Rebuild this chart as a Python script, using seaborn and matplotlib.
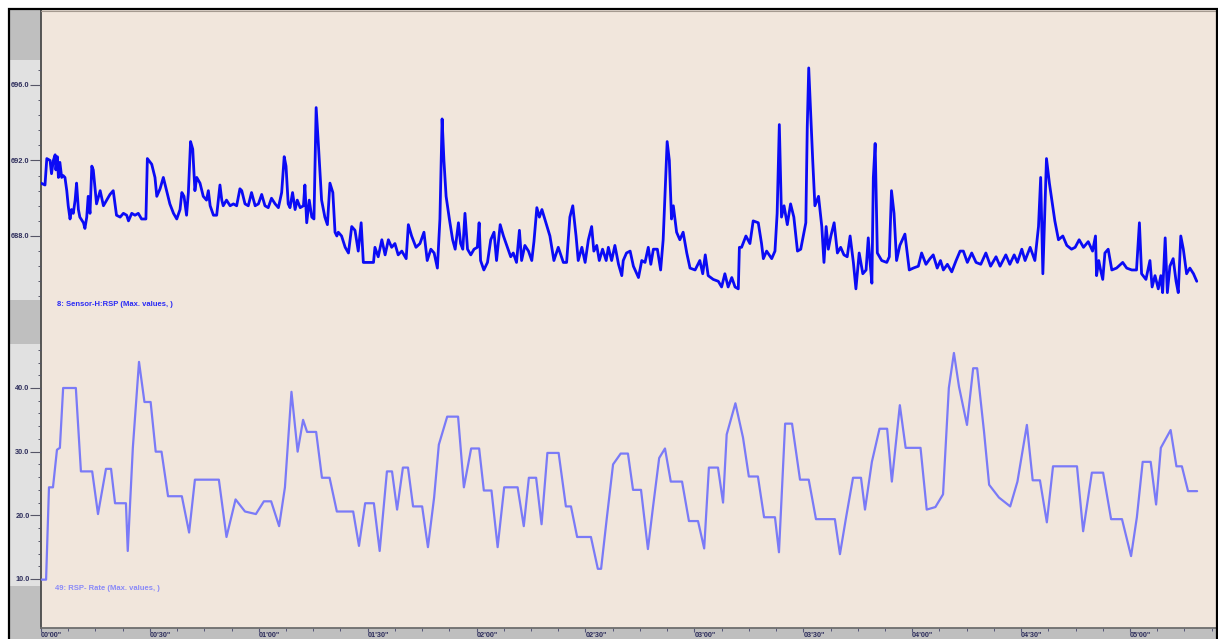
import numpy as np
import pandas as pd
import matplotlib
matplotlib.use("Agg")
import matplotlib.pyplot as plt
from matplotlib.patches import Rectangle
from matplotlib.lines import Line2D
from matplotlib.ticker import MultipleLocator, FormatStrFormatter
import seaborn as sns

# Sensor-H:RSP (max values) - time in seconds, value in sensor units
rsp_time = [
    0.0, 1.1, 1.6, 2.5, 2.9, 3.4, 3.9, 4.1, 4.5, 4.8, 5.2, 5.7, 6.1, 6.6, 7.1, 7.5, 8.0, 8.4, 8.9, 9.4,
    9.8, 10.3, 10.7, 11.7, 12.1, 12.6, 13.0, 13.5, 14.0, 14.4, 15.3, 16.3, 17.2, 18.1, 19.0, 19.9, 20.8, 21.8, 22.7, 23.6,
    24.1, 25.0, 25.9, 26.8, 27.7, 28.9, 29.3, 30.5, 31.4, 31.9, 32.8, 33.7, 34.6, 35.5, 36.5, 37.4, 38.3, 38.8, 39.4, 40.1,
    40.6, 41.2, 41.8, 42.4, 42.9, 43.8, 44.7, 45.6, 46.1, 46.6, 47.5, 48.4, 49.3, 49.8, 50.2, 51.1, 52.1, 53.0, 53.9, 54.8,
    55.3, 56.2, 57.1, 58.0, 59.0, 59.9, 60.8, 61.7, 62.6, 63.5, 64.5, 65.4, 66.3, 67.0, 67.5, 68.1, 68.6, 69.3, 70.0, 70.6,
    71.4, 72.3, 72.7, 73.2, 73.9, 74.6, 75.2, 75.8, 76.4, 77.3, 78.2, 78.9, 79.6, 80.4, 81.0,
    81.5, 81.9, 82.8, 83.8, 84.7, 85.6, 86.5, 87.4, 88.2, 88.8, 90.2, 91.6, 92.0, 92.9, 93.9, 94.8, 95.7, 96.6, 97.5, 98.4,
    99.4, 100.6, 101.2, 102.1, 103.3, 104.4, 105.5, 106.4, 107.4, 108.3, 109.2, 109.9, 110.5, 111.0, 111.6, 112.5, 113.4, 114.1, 115.0, 115.6,
    116.2, 116.8, 117.5, 118.4, 119.3, 120.2, 120.7, 121.1, 122.0, 123.0, 123.9, 124.8, 125.5, 126.5, 127.4, 128.3, 129.4, 130.1, 131.0, 131.8,
    132.4, 133.3, 134.3, 135.2, 135.8, 136.6, 137.3, 138.0, 139.1, 140.2, 141.3, 142.5, 143.9, 144.8, 145.7, 146.5, 147.4, 148.0, 149.0, 149.9,
    150.8, 151.7, 152.3, 153.1, 153.8, 154.7, 155.7, 156.3, 157.2, 158.1, 159.1, 160.0,
    160.4, 161.3, 162.3, 163.2, 164.6, 165.5, 166.4, 167.3, 168.0, 168.7, 169.8, 170.7, 171.4, 172.5, 173.1, 173.7, 174.2, 175.1, 176.0, 176.9,
    177.9, 178.8, 180.2, 181.5, 182.3, 183.0, 183.8, 185.2, 186.6, 187.5, 188.4, 189.3, 190.3, 191.2, 192.1, 192.4, 193.0, 194.2, 195.3, 196.2,
    197.6, 198.5, 199.0, 199.9, 201.3, 202.2, 202.8, 203.4, 204.0, 204.7, 205.6, 206.5, 207.4, 208.4, 209.3, 210.2, 210.7, 211.1, 211.5, 212.0,
    212.6, 213.2, 214.2, 215.1, 215.7, 216.3, 216.9, 217.6, 218.5, 219.4, 220.3, 221.2, 222.1, 222.9, 223.8, 224.5, 225.4, 226.4, 227.3, 227.9,
    228.4, 228.9, 229.3, 229.8, 230.4, 231.6, 233.0, 233.7, 234.3, 235.0, 235.7, 236.6, 238.0, 239.2,
    240.3, 241.7, 242.6, 243.8, 244.9, 245.8, 246.9, 247.8, 248.6, 249.7, 250.9, 252.1, 253.2, 254.1, 255.2, 256.4, 257.6, 258.9, 260.3, 261.6,
    263.1, 264.2, 265.8, 266.9, 268.1, 269.0, 270.2, 271.1, 272.5, 273.8, 274.8, 275.4, 276.0, 276.4, 277.0, 277.8, 278.7, 279.3, 280.3, 281.5,
    282.6, 283.9, 284.9, 286.0, 287.2, 288.5, 289.7, 290.5, 290.8, 291.4, 291.9, 292.5, 293.1, 294.0, 295.0, 296.3, 298.0, 299.1, 300.5, 301.8,
    302.6, 303.2, 304.4, 305.5, 306.1, 306.9, 307.8, 308.5, 309.0, 309.7, 310.3, 311.0, 311.9, 312.7, 313.3, 314.0, 314.7, 315.6, 316.5, 317.5,
    318.4,
]
rsp_value = [
    690.8, 690.7, 692.1, 692.0, 691.3, 692.0, 692.3, 691.5, 692.2, 691.1, 691.9, 691.1, 691.2, 691.1, 690.4, 689.6, 688.9, 689.4, 689.2, 689.9,
    690.8, 689.4, 689.0, 688.7, 688.4, 689.0, 690.1, 689.2, 691.7, 691.5, 689.7, 690.4, 689.6, 689.9, 690.2, 690.4, 689.1, 689.0, 689.2, 689.1,
    688.8, 689.2, 689.1, 689.2, 688.9, 688.9, 692.1, 691.8, 691.1, 690.1, 690.5, 691.1, 690.4, 689.7, 689.2, 688.9, 689.4, 690.3, 690.1, 689.1,
    690.3, 693.0, 692.6, 690.4, 691.1, 690.8, 690.1, 689.9, 690.4, 689.6, 689.1, 689.1, 690.7, 689.9, 689.6, 689.9, 689.6, 689.7, 689.6, 690.5,
    690.4, 689.7, 689.6, 690.3, 689.6, 689.7, 690.2, 689.6, 689.5, 690.0, 689.7, 689.5, 690.3, 692.2, 691.7, 689.7, 689.5, 690.3, 689.4, 689.9,
    689.5, 689.6, 690.7, 688.7, 689.9, 689.0, 688.9, 694.8, 692.9, 689.9, 689.0, 688.6, 690.8, 690.3, 688.2,
    688.0, 688.2, 688.0, 687.4, 687.1, 688.5, 688.3, 687.2, 688.7, 686.6, 686.6, 686.6, 687.4, 686.9, 687.8, 687.0, 687.8, 687.4, 687.6, 687.0,
    687.2, 686.8, 688.6, 688.0, 687.4, 687.6, 688.2, 686.7, 687.3, 687.1, 686.3, 688.9, 694.2, 692.0, 690.1, 688.9, 687.8, 687.3, 688.7, 687.6,
    687.3, 689.2, 687.3, 687.0, 687.3, 687.4, 688.7, 686.7, 686.2, 686.6, 687.8, 688.2, 686.7, 688.6, 688.0, 687.5, 686.9, 687.1, 686.6, 688.3,
    686.7, 687.5, 687.2, 686.7, 687.7, 689.5, 689.0, 689.4, 688.7, 688.0, 686.7, 687.4, 686.6, 686.6, 689.0, 689.6, 688.0, 686.7, 687.4, 686.6,
    687.8, 688.5, 687.2, 687.5, 686.7, 687.3, 686.7, 687.4, 686.7, 687.5, 686.5, 685.9,
    686.7, 687.1, 687.2, 686.4, 685.8, 686.7, 686.6, 687.4, 686.5, 687.3, 687.3, 686.2, 687.8, 693.0, 692.0, 688.9, 689.6, 688.2, 687.8, 688.2,
    687.1, 686.3, 686.2, 686.7, 686.0, 687.0, 685.9, 685.7, 685.6, 685.3, 686.0, 685.3, 685.8, 685.3, 685.2, 687.4, 687.4, 688.0, 687.6, 688.8,
    688.7, 687.6, 686.8, 687.2, 686.8, 687.2, 689.2, 693.9, 689.0, 689.6, 688.6, 689.7, 689.0, 687.2, 687.3, 688.2, 688.7, 693.8, 696.9, 694.7,
    692.0, 689.6, 690.1, 688.5, 686.6, 688.5, 687.3, 688.0, 688.7, 687.1, 687.4, 687.0, 686.9, 688.0, 686.6, 685.2, 687.1, 686.0, 686.2, 687.9,
    686.6, 685.5, 691.1, 692.9, 687.1, 686.7, 686.6, 686.9, 690.4, 689.2, 686.7, 687.5, 688.1, 686.2,
    686.3, 686.4, 687.1, 686.5, 686.8, 687.0, 686.3, 686.7, 686.2, 686.5, 686.1, 686.7, 687.2, 687.2, 686.6, 687.1, 686.6, 686.5, 687.1, 686.4,
    686.9, 686.4, 687.0, 686.5, 687.0, 686.6, 687.3, 686.7, 687.4, 686.7, 688.5, 691.1, 686.0, 688.5, 692.1, 690.8, 689.6, 688.8, 687.8, 688.0,
    687.5, 687.3, 687.4, 687.8, 687.4, 687.7, 687.2, 688.0, 685.9, 686.7, 686.2, 685.7, 687.1, 687.3, 686.2, 686.3, 686.6, 686.3, 686.2, 686.2,
    688.7, 686.0, 685.7, 686.7, 685.3, 685.9, 685.2, 685.9, 685.0, 687.9, 685.0, 686.4, 686.8, 685.6, 685.0, 688.0, 687.3, 686.0, 686.3, 686.0,
    685.6,
]

# RSP- Rate (max values)
rate_time = [
    0.0, 1.4, 2.2, 3.3, 4.4, 5.2, 6.1, 9.6, 11.0, 14.1, 15.7, 17.9, 19.3, 20.4, 23.4, 23.9, 25.3, 27.0, 28.5, 30.2, 31.6,
    33.2, 35.0, 38.8, 40.8, 42.4, 49.0, 51.1, 53.6, 56.2, 59.2, 61.4, 63.4, 65.6, 67.2, 69.0, 70.7, 72.2, 73.3, 75.8, 77.4,
    79.5, 81.5, 86.0, 87.6, 89.3, 91.7, 93.3, 95.3, 96.7, 98.1, 99.7, 101.1, 102.5, 105.0, 106.6, 108.3, 109.6, 111.9, 114.9, 116.5,
    118.5, 120.7, 122.0, 124.1, 125.8, 127.6, 131.3, 133.0, 134.4, 136.4, 137.9, 139.5, 142.6, 144.6, 146.0, 147.7, 151.5, 153.4, 154.3, 155.9,
    157.6, 159.7, 161.7, 163.1, 165.3, 167.2, 168.6, 170.3, 171.9, 173.5, 176.6, 178.5, 181.0, 182.7, 184.0, 186.5, 187.9, 188.9, 191.3, 193.4,
    195.0, 197.5, 199.2, 202.2, 203.3, 205.0, 206.9, 209.1, 211.5, 213.5, 218.7, 220.1, 221.8, 223.7, 225.9, 227.0, 228.9, 231.0, 233.1, 234.4,
    236.6, 238.2, 242.3, 244.0, 246.4, 248.5, 250.1, 251.5, 252.9, 255.1, 256.8, 257.9, 259.8, 261.2, 263.9, 267.0, 269.0, 271.6, 273.2, 275.2,
    277.1, 278.8, 285.4, 287.1, 289.5, 292.6, 294.8, 297.8, 300.3, 301.9, 303.5, 305.7, 307.2, 308.5, 311.2, 312.8, 314.3, 316.0, 318.5,
]
rate_value = [
    9.9, 9.9, 24.4, 24.4, 30.3, 30.6, 40.0, 40.0, 26.9, 26.9, 20.2, 27.3, 27.3, 21.9, 21.9, 14.4, 30.6, 44.1, 37.8, 37.8, 30.0,
    30.0, 23.0, 23.0, 17.3, 25.6, 25.6, 16.6, 22.5, 20.6, 20.2, 22.2, 22.2, 18.3, 24.4, 39.4, 30.0, 35.0, 33.1, 33.1, 25.9,
    25.9, 20.6, 20.6, 15.2, 21.9, 21.9, 14.4, 26.9, 26.9, 20.9, 27.5, 27.5, 21.4, 21.4, 15.0, 22.8, 31.1, 35.5, 35.5, 24.4,
    30.5, 30.5, 23.9, 23.9, 15.0, 24.4, 24.4, 18.3, 25.9, 25.9, 18.6, 29.8, 29.8, 21.4, 21.4, 16.6, 16.6, 11.6, 11.6, 19.7,
    28.0, 29.7, 29.7, 24.0, 24.0, 14.7, 21.3, 29.0, 30.5, 25.3, 25.3, 19.1, 19.1, 14.8, 27.5, 27.5, 22.0, 32.7, 37.6, 32.2,
    26.1, 26.1, 19.7, 19.7, 14.2, 34.4, 34.4, 25.6, 25.6, 19.4, 19.4, 13.9, 19.7, 25.9, 25.9, 20.9, 28.4, 33.6, 33.6, 25.3,
    37.3, 30.6, 30.6, 20.9, 21.3, 23.3, 40.0, 45.5, 40.2, 34.2, 43.1, 43.1, 33.1, 24.8, 22.8, 21.4, 25.3, 34.2, 25.5, 25.5,
    18.9, 27.7, 27.7, 17.5, 26.7, 26.7, 19.4, 19.4, 13.6, 19.7, 28.4, 28.4, 21.7, 30.6, 33.4, 27.7, 27.7, 23.8, 23.8,
]

time_ticks = [0, 30, 60, 90, 120, 150, 180, 210, 240, 270, 300]
time_labels = ["00'00\"", "00'30\"", "01'00\"", "01'30\"", "02'00\"", "02'30\"",
               "03'00\"", "03'30\"", "04'00\"", "04'30\"", "05'00\""]
rsp_label = "8: Sensor-H:RSP (Max. values, )"
rate_label = "49: RSP- Rate (Max. values, )"

assert len(rsp_time) == len(rsp_value)
assert len(rate_time) == len(rate_value)

rsp_df = pd.DataFrame({"time": rsp_time, "value": rsp_value})
rate_df = pd.DataFrame({"time": rate_time, "value": rate_value})

# style
sns.set_style("white")
plt.rcParams["font.family"] = ["Liberation Sans", "DejaVu Sans"]
plt.rcParams["font.weight"] = "bold"

BEIGE = "#f1e6dc"
DARK_GRAY = "#bfbfbf"
LIGHT_GRAY = "#e1e1e1"
NAVY = "#2e2e5c"
RSP_COLOR = "#0b0bf5"
RATE_COLOR = "#7a7af7"
T_MAX = 323.7

W, H = 1218, 639


def box(x0, y0, x1, y1):
    # pixel box (top-left origin) -> figure fraction
    return [x0 / W, 1 - y1 / H, (x1 - x0) / W, (y1 - y0) / H]


fig = plt.figure(figsize=(W / 100, H / 100), dpi=100)
fig.patch.set_facecolor("white")


def band(x0, y0, x1, y1, color):
    b = box(x0, y0, x1, y1)
    fig.add_artist(Rectangle((b[0], b[1]), b[2], b[3], transform=fig.transFigure,
                             facecolor=color, edgecolor="none", zorder=0))


# left gutter and bottom strip
band(10, 10, 41, 60, DARK_GRAY)
band(10, 60, 41, 300, LIGHT_GRAY)
band(10, 300, 41, 344, DARK_GRAY)
band(10, 344, 41, 586, LIGHT_GRAY)
band(10, 586, 41, 628, DARK_GRAY)
band(10, 628, 1216, 640, DARK_GRAY)

# background axes carries the time axis
bg = fig.add_axes(box(41, 10, 1216, 628))
bg.set_facecolor(BEIGE)
bg.set_xlim(0, T_MAX)
bg.set_ylim(0, 1)
bg.set_yticks([])
for side in ["top", "right"]:
    bg.spines[side].set_visible(False)
bg.spines["left"].set_color("#4a4a4a")
bg.spines["left"].set_linewidth(1.3)
bg.spines["bottom"].set_color("#6e6e6e")
bg.spines["bottom"].set_linewidth(1.3)
bg.set_xticks(time_ticks)
bg.set_xticklabels(time_labels, ha="left", fontsize=5.3, color=NAVY)
bg.xaxis.set_minor_locator(MultipleLocator(7.5))
bg.tick_params(axis="x", which="major", bottom=True, length=3.0, width=0.8, color="#555577", pad=0.2)
bg.tick_params(axis="x", which="minor", bottom=True, length=1.8, width=0.7, color="#555577")

# top panel: RSP
ax1 = fig.add_axes(box(41, 60, 1216, 300))
ax1.patch.set_alpha(0)
sns.lineplot(data=rsp_df, x="time", y="value", ax=ax1, color=RSP_COLOR, linewidth=2.0, estimator=None)
ax1.set_xlim(0, T_MAX)
ax1.set_ylim(684.61, 697.32)
ax1.yaxis.set_major_locator(MultipleLocator(4))
ax1.yaxis.set_minor_locator(MultipleLocator(0.8))
ax1.yaxis.set_major_formatter(FormatStrFormatter("%.1f"))

# bottom panel: RSP rate
ax2 = fig.add_axes(box(41, 344, 1216, 586))
ax2.patch.set_alpha(0)
sns.lineplot(data=rate_df, x="time", y="value", ax=ax2, color=RATE_COLOR, linewidth=1.6, estimator=None)
ax2.set_xlim(0, T_MAX)
ax2.set_ylim(8.90, 46.91)
ax2.yaxis.set_major_locator(MultipleLocator(10))
ax2.yaxis.set_minor_locator(MultipleLocator(2))
ax2.yaxis.set_major_formatter(FormatStrFormatter("%.1f"))

for ax in (ax1, ax2):
    ax.set_xlabel("")
    ax.set_ylabel("")
    ax.set_xticks([])
    for s in ax.spines.values():
        s.set_visible(False)
    ax.tick_params(axis="y", which="major", left=True, length=8, width=0.8, color="#555566",
                   pad=0.3, labelsize=5.3, labelcolor=NAVY)
    ax.tick_params(axis="y", which="minor", left=True, length=2.5, width=0.7, color="#555566")
    if ax.get_legend():
        ax.get_legend().remove()

fig.text(57 / W, 1 - 304 / H, rsp_label, color="#2a2af5", fontsize=5.5, va="center", ha="left")
fig.text(55 / W, 1 - 588 / H, rate_label, color="#8a8af8", fontsize=5.5, va="center", ha="left")

# thin line under the top border and the outer black frame
fig.add_artist(Line2D([41 / W, 1216 / W], [1 - 10.5 / H, 1 - 10.5 / H], transform=fig.transFigure,
                      color="#a59a90", linewidth=0.8, zorder=5))
fig.add_artist(Rectangle((9 / W, 1 - 645 / H), (1217 - 9) / W, (645 - 9) / H, transform=fig.transFigure,
                         facecolor="none", edgecolor="black", linewidth=1.6, zorder=6))

fig.savefig("out.png", dpi=100, facecolor=fig.get_facecolor())
